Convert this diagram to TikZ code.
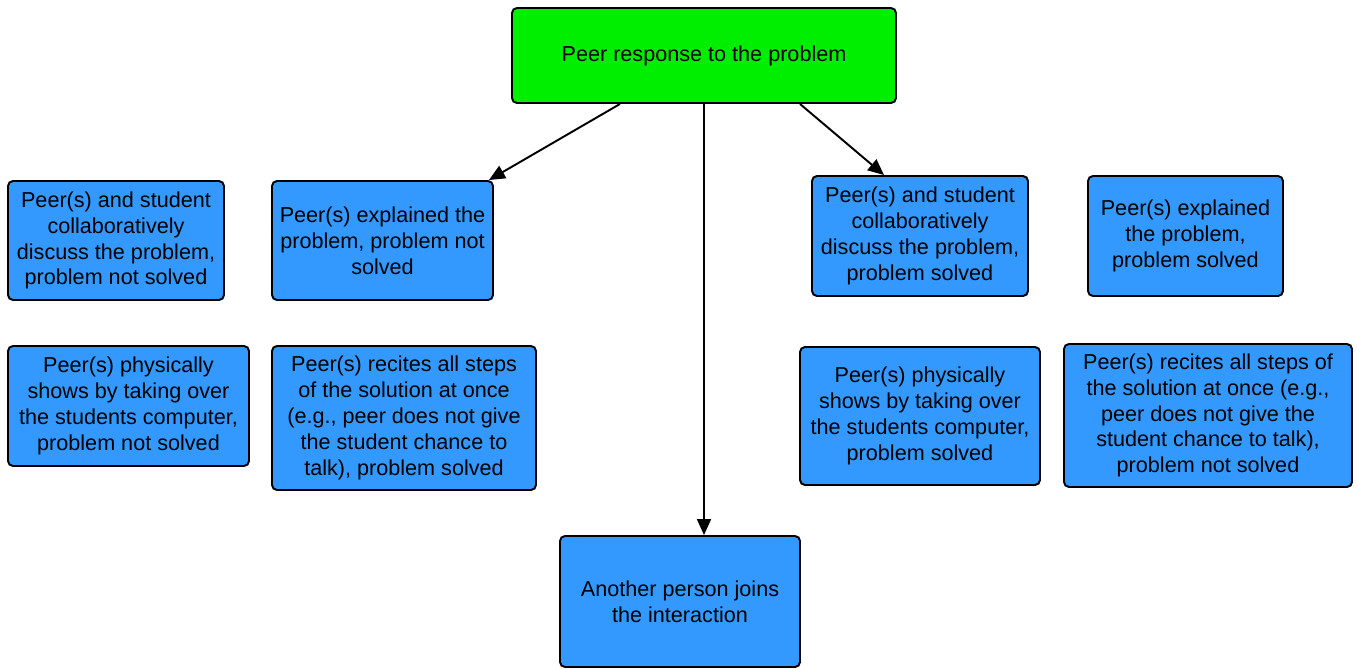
\documentclass[tikz,border=0pt]{standalone}
\usepackage{fontspec}
\setmainfont{Liberation Sans}
\usetikzlibrary{calc,arrows.meta}

\definecolor{boxgreen}{RGB}{0,238,0}
\definecolor{boxblue}{RGB}{51,153,255}

\tikzset{
  card/.style={draw=black, line width=1.1pt, rounded corners=0.1cm, fill=boxblue,
    align=center, inner sep=0pt, font=\fontsize{12.3}{14.7}\selectfont},
  link/.style={line width=1.1pt, -{Triangle[length=0.32cm,width=0.28cm]}}
}

\begin{document}
\begin{tikzpicture}[scale=1]
  \useasboundingbox (0,0) rectangle (27.14,-13.36);

  \node[card, fill=boxgreen, minimum width=7.68cm, minimum height=1.9cm] (top) at (14.08,-1.11)
    {Peer response to the problem};

  \node[card, minimum width=4.32cm, minimum height=2.38cm] (A) at (2.32,-4.81)
    {Peer(s) and student\\collaboratively\\discuss the problem,\\problem not solved};
  \node[card, minimum width=4.42cm, minimum height=2.38cm] (B) at (7.65,-4.81)
    {Peer(s) explained the\\problem, problem not\\solved};
  \node[card, minimum width=4.32cm, minimum height=2.4cm] (C) at (18.4,-4.72)
    {Peer(s) and student\\collaboratively\\discuss the problem,\\problem solved};
  \node[card, minimum width=3.9cm, minimum height=2.4cm] (D) at (23.71,-4.72)
    {Peer(s) explained\\the problem,\\problem solved};

  \node[card, minimum width=4.82cm, minimum height=2.4cm] (E) at (2.57,-8.12)
    {Peer(s) physically\\shows by taking over\\the students computer,\\problem not solved};
  \node[card, minimum width=5.28cm, minimum height=2.88cm] (F) at (8.08,-8.36)
    {Peer(s) recites all steps\\of the solution at once\\(e.g., peer does not give\\the student chance to\\talk), problem solved};
  \node[card, minimum width=4.8cm, minimum height=2.76cm] (G) at (18.4,-8.32)
    {Peer(s) physically\\shows by taking over\\the students computer,\\problem solved};
  \node[card, minimum width=5.76cm, minimum height=2.86cm] (H) at (24.16,-8.31)
    {Peer(s) recites all steps of\\the solution at once (e.g.,\\peer does not give the\\student chance to talk),\\problem not solved};

  \node[card, minimum width=4.8cm, minimum height=2.62cm] (I) at (13.6,-12.03)
    {Another person joins\\the interaction};

  \draw[link] ([xshift=-1.68cm]top.south) -- ([xshift=-0.1cm]B.north east);
  \draw[link] (top.south) -- (top.south |- I.north);
  \draw[link] ([xshift=1.92cm]top.south) -- ([xshift=-0.72cm]C.north);
\end{tikzpicture}
\end{document}
